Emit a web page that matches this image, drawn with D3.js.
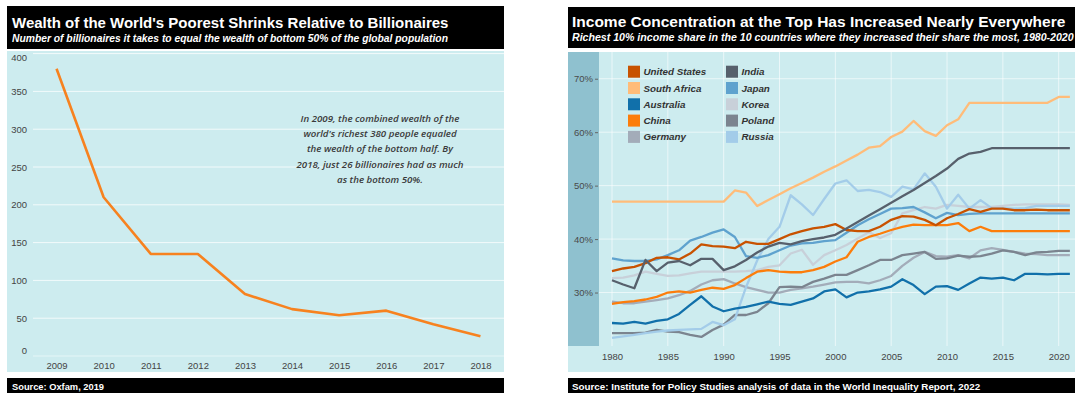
<!DOCTYPE html>
<html>
<head>
<meta charset="utf-8">
<script src="https://cdn.jsdelivr.net/npm/d3@7"></script>
<style>
  body { margin: 0; background: #fff; }
  svg { display: block; font-family: "Liberation Sans", Arial, sans-serif; }
</style>
</head>
<body>
<svg id="chart" width="1075" height="393"></svg>
<script>
// ---- Left chart: billionaires needed to match the bottom 50% ----
const wealthYears = ["2009", "2010", "2011", "2012", "2013", "2014", "2015", "2016", "2017", "2018"];
const billionairesNeeded = [380, 210, 135, 135, 82, 62, 54, 60, 42, 26];
const wealthTicks = [0, 50, 100, 150, 200, 250, 300, 350, 400];

// ---- Right chart: top 10% income share, 1980-2021 ----
const shareYears = [1980, 1981, 1982, 1983, 1984, 1985, 1986, 1987, 1988, 1989,
  1990, 1991, 1992, 1993, 1994, 1995, 1996, 1997, 1998, 1999,
  2000, 2001, 2002, 2003, 2004, 2005, 2006, 2007, 2008, 2009,
  2010, 2011, 2012, 2013, 2014, 2015, 2016, 2017, 2018, 2019,
  2020, 2021];
const shareYearTicks = [1980, 1985, 1990, 1995, 2000, 2005, 2010, 2015, 2020];
const sharePctTicks = [30, 40, 50, 60, 70];

const unitedStates = [34.0, 34.5, 34.8, 35.5, 36.5, 36.6, 36.2, 37.3, 39.0, 38.7,
  38.6, 38.3, 39.5, 39.1, 39.1, 40.0, 40.9, 41.5, 42.0, 42.3,
  42.8, 41.7, 41.5, 41.5, 42.3, 43.6, 44.3, 44.2, 43.6, 42.6,
  43.9, 44.7, 45.6, 45.1, 45.7, 45.7, 45.4, 45.4, 45.5, 45.4,
  45.4, 45.4];
const southAfrica = [47.0, 47.0, 47.0, 47.0, 47.0, 47.0, 47.0, 47.0, 47.0, 47.0,
  47.0, 49.1, 48.7, 46.2, 47.3, 48.4, 49.5, 50.5, 51.5, 52.6,
  53.6, 54.7, 55.8, 57.1, 57.4, 59.1, 60.1, 62.1, 60.2, 59.3,
  61.3, 62.4, 65.5, 65.5, 65.5, 65.5, 65.5, 65.5, 65.5, 65.5,
  66.6, 66.6];
const australia = [24.3, 24.2, 24.5, 24.2, 24.7, 25.0, 26.0, 27.7, 29.3, 27.4,
  26.5, 27.0, 27.3, 27.8, 28.3, 27.9, 27.7, 28.3, 28.9, 30.2,
  30.6, 29.1, 30.0, 30.2, 30.6, 31.1, 32.5, 31.4, 29.7, 31.1,
  31.2, 30.5, 31.7, 32.8, 32.6, 32.8, 32.3, 33.5, 33.5, 33.4,
  33.5, 33.5];
const china = [27.9, 28.2, 28.4, 28.7, 29.2, 30.0, 30.2, 30.0, 30.5, 30.9,
  30.7, 31.4, 32.7, 33.9, 34.2, 33.9, 33.8, 33.8, 34.2, 34.8,
  35.8, 36.6, 39.5, 40.4, 41.0, 41.7, 42.3, 42.7, 42.6, 42.6,
  42.6, 43.0, 41.5, 42.3, 41.5, 41.5, 41.5, 41.5, 41.5, 41.5,
  41.5, 41.5];
const germany = [28.3, 28.0, 28.0, 28.3, 28.6, 28.9, 29.5, 30.3, 31.5, 32.3,
  32.5, 31.7, 31.0, 30.5, 30.0, 30.0, 30.5, 30.8, 31.1, 31.5,
  31.9, 32.0, 32.0, 31.7, 32.3, 33.1, 35.0, 36.5, 37.6, 36.8,
  36.7, 37.0, 36.4, 37.9, 38.3, 38.0, 37.6, 37.3, 37.2, 37.0,
  37.0, 37.0];
const india = [32.3, 31.5, 30.8, 36.1, 34.0, 35.6, 35.9, 35.1, 36.3, 36.3,
  34.2, 34.9, 36.1, 37.5, 38.6, 39.3, 39.0, 39.6, 40.0, 40.3,
  40.8, 42.0, 43.2, 44.4, 45.6, 46.8, 48.0, 49.2, 50.5, 51.8,
  53.2, 55.0, 56.0, 56.3, 57.0, 57.0, 57.0, 57.0, 57.0, 57.0,
  57.0, 57.0];
const japan = [36.4, 36.0, 35.9, 35.9, 36.2, 37.0, 37.9, 39.7, 40.4, 41.2,
  41.8, 40.4, 36.8, 36.5, 37.0, 37.9, 38.8, 39.2, 39.3, 39.6,
  39.8, 41.2, 42.6, 43.7, 44.7, 45.7, 45.8, 46.0, 45.0, 43.9,
  44.9, 44.5, 44.7, 44.8, 44.8, 44.8, 44.8, 44.8, 44.8, 44.8,
  44.8, 44.8];
const korea = [32.7, 32.8, 33.2, 33.9, 33.5, 33.1, 33.2, 33.6, 33.9, 33.9,
  33.9, 33.9, 34.0, 34.2, 34.8, 35.1, 37.3, 38.0, 35.2, 37.0,
  37.9, 38.9, 40.1, 41.3, 40.2, 41.1, 44.8, 45.4, 46.0, 45.7,
  46.4, 46.2, 46.0, 46.0, 46.0, 46.2, 46.4, 46.5, 46.5, 46.5,
  46.5, 46.4];
const poland = [22.4, 22.4, 22.4, 22.5, 23.0, 22.7, 22.6, 22.1, 21.7, 23.0,
  24.0, 25.8, 25.8, 26.4, 28.0, 31.0, 31.1, 31.0, 32.0, 32.6,
  33.3, 33.3, 34.2, 35.1, 36.1, 36.1, 37.0, 37.3, 37.6, 36.3,
  36.4, 36.9, 36.7, 36.8, 37.3, 37.9, 37.6, 37.0, 37.5, 37.6,
  37.8, 37.8];
const russia = [21.5, 21.8, 22.1, 22.4, 22.7, 22.9, 23.0, 23.1, 23.2, 24.5,
  23.9, 25.0, 31.0, 36.0, 40.0, 42.3, 48.2, 46.5, 44.5, 47.5,
  50.4, 51.0, 49.0, 49.2, 48.8, 47.9, 49.8, 49.3, 52.3, 49.8,
  45.7, 48.3, 45.7, 47.3, 45.8, 45.8, 45.7, 45.8, 46.2, 46.2,
  46.2, 46.2];

const countryNames = ["United States", "South Africa", "Australia", "China", "Germany",
  "India", "Japan", "Korea", "Poland", "Russia"];
const countryColors = ["#c85200", "#ffbc79", "#1170aa", "#fc7d0b", "#a3acb9",
  "#57606c", "#5fa2ce", "#c8d0d9", "#7b848f", "#a3cce9"];
const countrySeries = [unitedStates, southAfrica, australia, china, germany,
  india, japan, korea, poland, russia];

const svg = d3.select("#chart");
const plotBg = "#cdecef";
const stripBg = "#8fc1cf";

// ===================== Left panel =====================
const L = { x0: 7, x1: 504, plotTop: 51, plotBottom: 372, gridLeft: 33 };
const left = svg.append("g");

left.append("rect").attr("x", L.x0).attr("y", 6).attr("width", L.x1 - L.x0).attr("height", 43).attr("fill", "#000");
left.append("text").attr("x", 12).attr("y", 27.5).attr("fill", "#fff")
  .attr("font-size", 15).attr("font-weight", "bold")
  .text("Wealth of the World's Poorest Shrinks Relative to Billionaires");
left.append("text").attr("x", 12).attr("y", 41.5).attr("fill", "#fff")
  .attr("font-size", 10.3).attr("font-weight", "bold").attr("font-style", "italic")
  .text("Number of billionaires it takes to equal the wealth of bottom 50% of the global population");

left.append("rect").attr("x", L.x0).attr("y", L.plotTop).attr("width", L.x1 - L.x0)
  .attr("height", L.plotBottom - L.plotTop).attr("fill", plotBg);

const xL = d3.scalePoint().domain(wealthYears).range([L.gridLeft, L.x1]).padding(0.5);
const yL = d3.scaleLinear().domain([0, 400]).range([356, 53.6]);

// horizontal gridlines
left.append("g").selectAll("line").data(wealthTicks).join("line")
  .attr("x1", L.gridLeft).attr("x2", L.x1)
  .attr("y1", d => yL(d)).attr("y2", d => yL(d))
  .attr("stroke", "#fff").attr("stroke-opacity", d => d === 0 ? 0.5 : 0.75).attr("stroke-width", 1);

// y tick labels (end labels nudged inside the panel)
const yAxisL = d3.axisLeft(yL).tickValues(wealthTicks).tickSize(0).tickPadding(0);
const gyL = left.append("g").attr("transform", `translate(27,0)`).call(yAxisL);
gyL.select(".domain").remove();
gyL.selectAll("text").attr("font-size", 9.5).attr("fill", "#444")
  .attr("font-family", "Liberation Sans, Arial, sans-serif")
  .attr("transform", d => d === 0 ? "translate(0,-6)" : d === 400 ? "translate(0,3.5)" : null);

// x tick labels
const xAxisL = d3.axisBottom(xL).tickSize(0).tickPadding(0);
const gxL = left.append("g").attr("transform", "translate(0,362)").call(xAxisL);
gxL.select(".domain").remove();
gxL.selectAll("text").attr("font-size", 9.5).attr("fill", "#444")
  .attr("font-family", "Liberation Sans, Arial, sans-serif");

// the series
const lineL = d3.line().x((d, i) => xL(wealthYears[i])).y(d => yL(d));
left.append("path").datum(billionairesNeeded).attr("d", lineL)
  .attr("fill", "none").attr("stroke", "#f7821f").attr("stroke-width", 2.6)
  .attr("stroke-linejoin", "round");

// annotation
const noteLines = ["In 2009, the combined wealth of the",
  "world's richest 380 people equaled",
  "the wealth of the bottom half. By",
  "2018, just 26 billionaires had as much",
  "as the bottom 50%."];
left.append("g").selectAll("text").data(noteLines).join("text")
  .attr("x", 380).attr("y", (d, i) => 122 + i * 15.2)
  .attr("text-anchor", "middle").attr("font-size", 9.7).attr("font-style", "italic")
  .attr("font-weight", 600)
  .attr("font-family", "'Open Sans', 'Noto Sans', sans-serif").attr("fill", "#3a3a3a")
  .text(d => d);

left.append("rect").attr("x", L.x0).attr("y", 378).attr("width", L.x1 - L.x0).attr("height", 15).attr("fill", "#000");
left.append("text").attr("x", 12).attr("y", 389.5).attr("fill", "#fff")
  .attr("font-size", 9.3).attr("font-weight", "bold").text("Source: Oxfam, 2019");

// ===================== Right panel =====================
const R = { x0: 568, x1: 1075, plotTop: 52, plotBottom: 372, stripRight: 599, stripBottom: 346 };
const right = svg.append("g");

right.append("rect").attr("x", R.x0).attr("y", 7).attr("width", 520).attr("height", 41).attr("fill", "#000");
right.append("text").attr("x", 572).attr("y", 27.3).attr("fill", "#fff")
  .attr("font-size", 15.5).attr("font-weight", "bold")
  .text("Income Concentration at the Top Has Increased Nearly Everywhere");
right.append("text").attr("x", 572).attr("y", 41).attr("fill", "#fff")
  .attr("font-size", 10.6).attr("font-weight", "bold").attr("font-style", "italic")
  .text("Richest 10% income share in the 10 countries where they increased their share the most, 1980-2020");

right.append("rect").attr("x", R.x0).attr("y", R.plotTop).attr("width", R.x1 - R.x0)
  .attr("height", R.plotBottom - R.plotTop).attr("fill", plotBg);
right.append("rect").attr("x", R.x0).attr("y", R.plotTop).attr("width", R.stripRight - R.x0)
  .attr("height", R.stripBottom - R.plotTop).attr("fill", stripBg);

const xR = d3.scaleLinear().domain([1980, 2020]).range([612, 1058.7]);
const yR = d3.scaleLinear().domain([20, 75]).range([R.stripBottom, R.plotTop]);

// gridlines
right.append("g").selectAll("line").data(shareYearTicks).join("line")
  .attr("x1", d => xR(d)).attr("x2", d => xR(d))
  .attr("y1", R.plotTop).attr("y2", R.stripBottom)
  .attr("stroke", "#fff").attr("stroke-opacity", 0.6).attr("stroke-width", 1);
right.append("g").selectAll("line").data(sharePctTicks).join("line")
  .attr("x1", R.stripRight).attr("x2", R.x1)
  .attr("y1", d => yR(d)).attr("y2", d => yR(d))
  .attr("stroke", "#fff").attr("stroke-opacity", 0.6).attr("stroke-width", 1);

// y axis on the strip
const yAxisR = d3.axisLeft(yR).tickValues(sharePctTicks).tickSize(3).tickPadding(2)
  .tickFormat(d => d + "%");
const gyR = right.append("g").attr("transform", "translate(598,0)").call(yAxisR);
gyR.select(".domain").remove();
gyR.selectAll("line").attr("stroke", "#666");
gyR.selectAll("text").attr("font-size", 9.5).attr("fill", "#4a4a4a")
  .attr("font-family", "Liberation Sans, Arial, sans-serif");

// x axis labels
const xAxisR = d3.axisBottom(xR).tickValues(shareYearTicks).tickFormat(d3.format("d"))
  .tickSize(0).tickPadding(0);
const gxR = right.append("g").attr("transform", "translate(0,353)").call(xAxisR);
gxR.select(".domain").remove();
gxR.selectAll("text").attr("font-size", 9.5).attr("fill", "#444")
  .attr("font-family", "Liberation Sans, Arial, sans-serif");

// country lines
const lineR = d3.line().x((d, i) => xR(shareYears[i])).y(d => yR(d));
const drawOrder = [7, 4, 8, 9, 2, 6, 3, 0, 5, 1];
right.append("g").selectAll("path").data(drawOrder).join("path")
  .attr("d", k => lineR(countrySeries[k]))
  .attr("fill", "none").attr("stroke", k => countryColors[k])
  .attr("stroke-width", 2.3).attr("stroke-linejoin", "round");

// legend
const legend = right.append("g");
const legendItems = legend.selectAll("g").data(countryNames).join("g")
  .attr("transform", (d, i) => `translate(${i < 5 ? 628 : 726},${71.7 + (i % 5) * 16.3})`);
legendItems.append("rect").attr("x", 0).attr("y", -6).attr("width", 12).attr("height", 12)
  .attr("fill", (d, i) => countryColors[i]);
legendItems.append("text").attr("x", 15.5).attr("y", 3.5)
  .attr("font-size", 9.8).attr("font-weight", "bold").attr("font-style", "italic")
  .attr("fill", "#333").text(d => d);

right.append("rect").attr("x", R.x0).attr("y", 378).attr("width", R.x1 - R.x0).attr("height", 15).attr("fill", "#000");
right.append("text").attr("x", 572).attr("y", 389.5).attr("fill", "#fff")
  .attr("font-size", 9.8).attr("font-weight", "bold")
  .text("Source: Institute for Policy Studies analysis of data in the World Inequality Report, 2022");
</script>
</body>
</html>
